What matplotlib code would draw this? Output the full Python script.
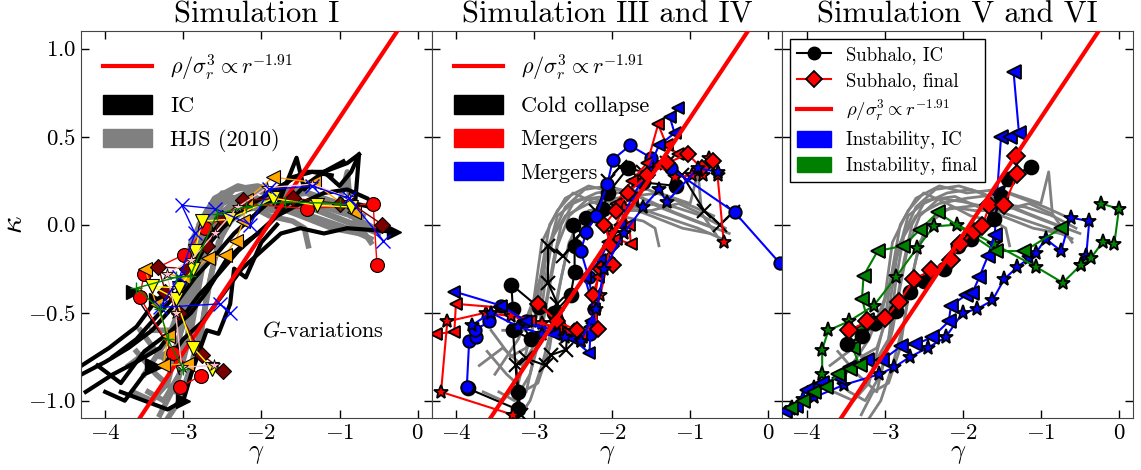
import numpy as np
import matplotlib.pyplot as plt
from matplotlib.lines import Line2D
from matplotlib.patches import Patch

plt.rcParams['mathtext.fontset'] = 'cm'
plt.rcParams['font.family'] = 'serif'
plt.rcParams['font.serif'] = ['cmr10']
plt.rcParams['axes.formatter.use_mathtext'] = True

# наклон линии rho/sigma^3 ~ r^-alpha в плоскости (gamma, kappa)
alpha = 1.91
ref_gamma = [-4.6, 0.6]

# HJS (2010): треки (gamma, kappa)
hjs_tracks = [
    [(-3.60, -0.72), (-3.35, -0.85), (-3.10, -0.95), (-3.00, -0.75), (-2.85, -0.45), (-2.75, -0.20),
     (-2.65, 0.00), (-2.50, 0.12), (-2.20, 0.18), (-1.90, 0.20), (-1.60, 0.15), (-1.20, 0.07),
     (-0.80, 0.00), (-0.50, -0.05)],
    [(-3.45, -0.95), (-3.25, -1.00), (-3.05, -0.85), (-2.90, -0.60), (-2.80, -0.35), (-2.70, -0.12),
     (-2.55, 0.05), (-2.30, 0.15), (-2.00, 0.13), (-1.70, 0.10), (-1.30, 0.04), (-0.90, -0.02),
     (-0.60, -0.08)],
    [(-3.70, -0.80), (-3.40, -0.70), (-3.15, -0.80), (-2.95, -0.65), (-2.85, -0.30), (-2.75, -0.05),
     (-2.60, 0.10), (-2.35, 0.20), (-2.05, 0.22), (-1.75, 0.18), (-1.40, 0.10), (-1.00, 0.03),
     (-0.70, -0.02)],
    [(-3.30, -1.08), (-3.15, -0.95), (-2.95, -0.90), (-2.80, -0.70), (-2.70, -0.40), (-2.60, -0.20),
     (-2.50, -0.05), (-2.30, 0.08), (-2.00, 0.10), (-1.60, 0.12), (-1.20, 0.10), (-0.85, 0.05),
     (-0.55, -0.02)],
    [(-3.55, -0.60), (-3.30, -0.75), (-3.10, -0.70), (-2.95, -0.50), (-2.85, -0.20), (-2.70, 0.05),
     (-2.45, 0.14), (-2.10, 0.16), (-1.80, 0.10), (-1.50, 0.05), (-1.10, -0.02), (-0.75, -0.05)],
    [(-3.20, -1.10), (-3.05, -1.00), (-2.90, -0.80), (-2.75, -0.55), (-2.65, -0.30), (-2.55, -0.10),
     (-2.40, 0.02), (-2.15, 0.10), (-1.85, 0.08), (-1.50, 0.08), (-1.15, 0.12), (-0.85, 0.06),
     (-0.60, -0.10)],
    [(-3.65, -0.95), (-3.40, -1.00), (-3.20, -0.90), (-3.00, -0.55), (-2.90, -0.25), (-2.80, 0.00),
     (-2.60, 0.15), (-2.30, 0.22), (-1.95, 0.18), (-1.55, 0.20), (-1.25, 0.15), (-0.95, 0.10),
     (-0.70, 0.05)],
    [(-3.50, -0.85), (-3.20, -0.65), (-3.00, -0.42), (-2.90, -0.10), (-2.70, 0.08), (-2.50, 0.18),
     (-2.20, 0.12), (-1.90, 0.05), (-1.60, 0.02), (-1.45, -0.02), (-1.40, -0.12)],
    [(-3.40, -0.60), (-3.10, -0.60), (-2.95, -0.35), (-2.80, -0.10), (-2.60, 0.05), (-2.30, 0.12),
     (-1.95, 0.15), (-1.40, 0.18), (-1.00, 0.12), (-0.90, 0.30), (-0.85, 0.05)],
]

# Simulation I: начальные условия (толстые чёрные)
ic_tracks = [
    [(-4.30, -0.85), (-4.00, -0.78), (-3.70, -0.70), (-3.40, -0.60), (-3.10, -0.45), (-2.85, -0.30),
     (-2.60, -0.18), (-2.35, -0.05), (-2.10, 0.05), (-1.85, 0.15), (-1.60, 0.27), (-1.35, 0.30),
     (-1.10, 0.28)],
    [(-4.25, -0.95), (-3.90, -0.85), (-3.60, -0.78), (-3.30, -0.70), (-3.05, -0.55), (-2.80, -0.40),
     (-2.55, -0.28), (-2.30, -0.15), (-2.05, -0.05), (-1.80, 0.05), (-1.50, 0.12), (-1.20, 0.18),
     (-0.90, 0.20), (-0.65, 0.15)],
    [(-4.10, -0.80), (-3.80, -0.90), (-3.50, -0.72), (-3.20, -0.62), (-2.90, -0.50), (-2.70, -0.38),
     (-2.45, -0.20), (-2.20, -0.10), (-1.95, -0.02), (-1.70, 0.10), (-1.45, 0.22), (-1.20, 0.30),
     (-0.95, 0.36)],
    [(-4.00, -0.95), (-3.75, -1.00), (-3.50, -0.85), (-3.25, -0.80), (-3.00, -0.65), (-2.75, -0.55),
     (-2.50, -0.40), (-2.25, -0.25), (-2.00, -0.15), (-1.75, -0.05), (-1.50, -0.02), (-1.20, -0.05),
     (-0.90, -0.02), (-0.30, -0.04)],
    [(-3.90, -0.75), (-3.60, -0.65), (-3.30, -0.50), (-3.00, -0.35), (-2.75, -0.15), (-2.50, -0.02),
     (-2.25, 0.08), (-2.00, 0.15), (-1.75, 0.22), (-1.45, 0.30), (-1.20, 0.30), (-0.90, 0.35),
     (-0.75, 0.40)],
    [(-3.80, -0.95), (-3.50, -1.00), (-3.20, -1.05), (-3.00, -1.00), (-2.90, -0.85), (-2.70, -0.60),
     (-2.55, -0.62), (-2.40, -0.45), (-2.35, -0.25), (-2.20, -0.30), (-2.00, -0.10), (-1.80, 0.00)],
    [(-1.80, 0.10), (-1.55, 0.38), (-1.45, 0.20), (-1.20, 0.30), (-1.00, 0.22), (-0.85, 0.30),
     (-0.75, 0.40), (-0.80, 0.12), (-0.60, 0.10)],
    [(-4.30, -0.80), (-3.95, -0.70), (-3.60, -0.58), (-3.35, -0.43), (-3.10, -0.35), (-2.90, -0.25),
     (-2.70, -0.08), (-2.45, 0.05)],
]
ic_ends = [(-3.65, -0.38), (-3.35, -0.43), (-3.00, -1.00), (-0.30, -0.04), (-3.40, -0.80)]

# Simulation I: вариации G
gvar_red = [(-3.04, -0.92), (-2.78, -0.86), (-3.13, -0.73), (-3.56, -0.41), (-3.50, -0.28),
            (-2.99, -0.17), (-2.72, -0.02), (-2.20, 0.12), (-1.41, 0.09), (-0.57, 0.12), (-0.52, -0.23)]
gvar_orange = [(-2.95, -0.79), (-3.26, -0.80), (-3.19, -0.63), (-3.35, -0.45), (-3.49, -0.25),
               (-3.00, -0.30), (-2.68, -0.19), (-2.46, -0.17), (-2.33, -0.09), (-2.23, 0.02),
               (-2.20, 0.14), (-1.85, 0.27), (-1.33, 0.24), (-0.82, 0.07)]
gvar_yellow = [(-2.63, -0.82), (-2.87, -0.70), (-3.10, -0.42), (-3.40, -0.35), (-3.06, -0.36),
               (-2.87, -0.25), (-2.85, -0.15), (-2.76, 0.02), (-2.42, 0.03), (-1.85, 0.15),
               (-1.29, 0.11), (-0.85, 0.10)]
gvar_maroon = [(-2.49, -0.83), (-2.76, -0.74), (-3.05, -0.50), (-3.23, -0.38), (-3.32, -0.24),
               (-2.95, -0.25), (-2.70, -0.12), (-2.50, 0.04), (-2.23, 0.14), (-1.60, 0.15),
               (-1.00, 0.12), (-0.85, 0.12), (-0.45, 0.00)]
gvar_pink = [(-2.61, -0.80), (-3.02, -0.81), (-3.10, -0.50), (-3.21, -0.28), (-2.90, -0.20),
             (-2.60, -0.05), (-2.30, 0.10), (-1.93, 0.21), (-1.35, 0.23), (-0.88, 0.15)]
gvar_blue = [(-2.40, -0.50), (-2.53, -0.45), (-3.30, -0.47), (-3.05, -0.30), (-2.85, -0.05),
             (-3.02, 0.11), (-2.59, 0.09), (-2.14, 0.00), (-1.90, 0.20), (-1.35, 0.22), (-0.88, 0.15),
             (-0.44, -0.09)]
gvar_green = [(-3.00, -0.82), (-3.20, -0.65), (-3.30, -0.48), (-3.60, -0.36), (-3.10, -0.30),
              (-2.91, -0.29), (-2.57, 0.06), (-2.20, 0.10), (-1.70, 0.13), (-1.00, 0.12)]

# Simulation III и IV: холодный коллапс
cold_circ = [(-3.85, -0.93), (-3.21, -1.05), (-3.21, -0.95), (-3.27, -0.60), (-3.04, -0.65), (-3.27, -0.48),
             (-3.29, -0.34), (-2.94, -0.47), (-2.74, -0.50), (-2.53, -0.40), (-2.48, -0.27), (-2.48, -0.12),
             (-2.50, 0.00), (-2.33, 0.04), (-2.12, 0.09), (-2.05, 0.18), (-1.80, 0.32), (-1.60, 0.24),
             (-1.18, 0.22)]
cold_x = [(-3.17, -1.08), (-3.23, -0.80), (-3.10, -0.76), (-2.85, -0.80), (-2.78, -0.74), (-2.59, -0.71),
          (-2.57, -0.60), (-2.70, -0.45), (-2.82, -0.33), (-2.82, -0.12), (-2.63, -0.18), (-2.40, -0.05),
          (-2.20, 0.08), (-2.05, 0.25), (-1.90, 0.33), (-1.60, 0.30), (-1.30, 0.35), (-1.10, 0.28),
          (-0.82, 0.08), (-0.62, 0.00), (-0.45, 0.07)]

# Simulation III и IV: слияния
merg_red_star = [(-3.27, -1.08), (-4.19, -0.95), (-4.11, -0.55), (-3.62, -0.50), (-3.30, -0.52),
                 (-2.90, -0.56), (-2.60, -0.62), (-2.40, -0.66), (-2.25, -0.57), (-2.15, -0.40),
                 (-2.05, -0.20), (-2.00, -0.05), (-1.85, 0.10), (-1.70, 0.25), (-1.45, 0.35),
                 (-1.20, 0.27), (-0.98, 0.28), (-0.84, 0.28), (-0.76, 0.38), (-0.65, 0.28), (-0.57, -0.10)]
merg_red_tri = [(-4.26, -0.62), (-4.02, -0.61), (-4.00, -0.45), (-3.45, -0.47), (-3.05, -0.55),
                (-2.70, -0.58), (-2.40, -0.64), (-2.28, -0.58), (-2.18, -0.30), (-1.95, -0.08),
                (-1.76, -0.11), (-1.78, 0.00), (-1.95, 0.12), (-1.75, 0.25), (-1.55, 0.35),
                (-1.41, 0.57), (-1.30, 0.45), (-1.15, 0.40)]
merg_red_dia = [(-2.95, -0.45), (-2.70, -0.55), (-2.45, -0.60), (-2.18, -0.59), (-2.25, -0.40),
                (-2.14, -0.25), (-1.99, -0.23), (-2.01, -0.12), (-2.10, 0.00), (-1.95, 0.08),
                (-1.80, 0.18), (-1.55, 0.28), (-1.30, 0.35), (-1.03, 0.40), (-0.85, 0.32), (-0.71, 0.36)]
merg_blue_circ = [(-3.86, -0.92), (-3.83, -0.66), (-3.74, -0.64), (-3.76, -0.60), (-3.57, -0.55),
                  (-3.42, -0.46), (-3.10, -0.55), (-2.75, -0.60), (-2.45, -0.62), (-2.28, -0.62),
                  (-2.23, -0.48), (-2.30, -0.30), (-2.40, -0.15), (-2.33, -0.04), (-2.20, 0.05),
                  (-2.06, 0.23), (-1.99, 0.37), (-1.77, 0.45), (-1.50, 0.38), (-1.25, 0.32),
                  (-0.43, 0.07), (0.15, -0.22)]
merg_blue_tri = [(-4.02, -0.38), (-3.42, -0.46), (-3.10, -0.55), (-2.75, -0.62), (-2.50, -0.65),
                 (-2.29, -0.73), (-2.27, -0.55), (-2.23, -0.48), (-2.35, -0.30), (-2.15, -0.20),
                 (-2.05, -0.10), (-1.90, 0.00), (-1.75, 0.15), (-1.55, 0.30), (-1.40, 0.45),
                 (-1.20, 0.52), (-1.26, 0.61), (-1.16, 0.66)]
merg_blue_star = [(-3.79, -0.57), (-3.55, -0.50), (-3.20, -0.58), (-2.90, -0.62), (-2.60, -0.64),
                  (-2.40, -0.66), (-2.20, -0.48), (-2.10, -0.25), (-1.85, -0.05), (-1.60, 0.10),
                  (-1.40, 0.20), (-1.30, 0.13), (-0.90, 0.32), (-0.65, 0.30)]

# Simulation V и VI: субгало и неустойчивость
sub_ic = [(-3.48, -0.68), (-3.29, -0.63), (-3.12, -0.56), (-2.86, -0.49), (-2.67, -0.38), (-2.50, -0.32),
          (-2.24, -0.25), (-2.06, -0.12), (-1.90, -0.08), (-1.60, 0.03), (-1.51, 0.16), (-1.42, 0.26),
          (-1.13, 0.33)]
sub_final = [(-3.46, -0.60), (-3.22, -0.55), (-2.99, -0.53), (-2.82, -0.44), (-2.62, -0.31), (-2.41, -0.26),
             (-2.15, -0.20), (-2.03, -0.11), (-1.86, -0.04), (-1.75, -0.01), (-1.66, 0.11), (-1.47, 0.11),
             (-1.30, 0.29), (-1.32, 0.39)]
inst_ic_tri = [(-4.27, -1.06), (-4.14, -1.03), (-4.00, -0.94), (-3.80, -0.90), (-3.59, -0.87), (-3.44, -0.81),
               (-3.22, -0.77), (-3.03, -0.77), (-2.79, -0.69), (-2.61, -0.68), (-2.39, -0.64), (-2.18, -0.55),
               (-2.15, -0.46), (-1.96, -0.40), (-1.88, -0.39), (-1.79, -0.30), (-1.68, -0.18), (-1.59, -0.06),
               (-1.56, 0.18), (-1.51, 0.50), (-1.40, 0.50), (-1.28, 0.52), (-1.35, 0.87)]
inst_ic_star = [(-4.18, -1.04), (-3.90, -0.98), (-3.52, -0.91), (-3.07, -0.85), (-2.88, -0.81), (-2.67, -0.75),
                (-2.45, -0.70), (-2.22, -0.64), (-2.00, -0.50), (-1.82, -0.48), (-1.62, -0.43), (-1.47, -0.31),
                (-1.30, -0.24), (-1.15, -0.19), (-1.06, -0.16), (-0.94, -0.08), (-0.74, -0.15), (-0.62, 0.04),
                (-0.38, 0.02), (-0.42, -0.18), (-0.49, -0.23)]
inst_fin_tri = [(-4.20, -1.04), (-4.05, -1.00), (-3.90, -0.95), (-3.75, -0.92), (-3.60, -0.85), (-3.45, -0.82),
                (-3.32, -0.80), (-3.41, -0.70), (-3.33, -0.60), (-3.22, -0.54), (-3.29, -0.42), (-3.27, -0.29),
                (-3.09, -0.15), (-2.76, -0.12), (-2.55, -0.03), (-2.32, 0.07), (-1.58, -0.15), (-1.21, -0.15),
                (-0.74, -0.02)]
inst_fin_star = [(-4.20, -1.05), (-4.05, -0.99), (-3.90, -0.93), (-3.80, -0.85), (-3.80, -0.71), (-3.72, -0.60),
                 (-3.46, -0.55), (-3.14, -0.46), (-2.86, -0.30), (-2.58, -0.13), (-2.37, -0.01), (-2.07, 0.00),
                 (-1.60, -0.11), (-1.06, -0.24), (-0.72, -0.33), (-0.49, -0.23), (-0.36, -0.19), (-0.21, -0.10),
                 (-0.06, -0.11), (0.00, 0.09), (-0.23, 0.12)]


def draw_track(ax, pts, color, marker=None, ms=9, lw=1.5, mfc=None, mec='k', mew=1.3, zorder=3):
    pts = np.array(pts)
    ax.plot(pts[:, 0], pts[:, 1], color=color, lw=lw, marker=marker, ms=ms,
            mfc=color if mfc is None else mfc, mec=mec, mew=mew, zorder=zorder)


def draw_reference(ax, zorder):
    g = np.array(ref_gamma)
    ax.plot(g, 2.0 / 3.0 * (g + alpha), color='red', lw=3, zorder=zorder)


ref_label = r'$\rho/\sigma_r^3 \propto r^{-1.91}$'

fig, axes = plt.subplots(1, 3, figsize=(11.41, 4.70), dpi=100, sharey=True)
plt.subplots_adjust(left=0.071, right=0.993, bottom=0.11, top=0.934, wspace=0)

# --- Simulation I
ax = axes[0]
for tr in hjs_tracks:
    draw_track(ax, tr, 'gray', lw=4, zorder=1)
for tr in ic_tracks:
    draw_track(ax, tr, 'k', lw=3, zorder=2)
draw_track(ax, [(-3.65, -0.38), (-3.20, -0.68), (-3.05, -0.85)], 'k', lw=1, zorder=2)
ends = np.array(ic_ends)
ax.plot(ends[:, 0], ends[:, 1], ls='none', marker='>', ms=10, color='k', zorder=2)
draw_reference(ax, 4)
draw_track(ax, gvar_red, 'red', 'o', ms=10, lw=1, mew=0.8, zorder=5)
draw_track(ax, gvar_orange, 'orange', '<', ms=10, lw=1, mew=0.8, zorder=5)
draw_track(ax, gvar_maroon, '#7a0000', 'D', ms=8.5, lw=1, mew=0.8, zorder=5)
draw_track(ax, gvar_yellow, 'yellow', 'v', ms=10, lw=1, mew=0.8, zorder=5)
draw_track(ax, gvar_pink, 'pink', '*', ms=9, lw=1, mew=0.6, zorder=5)
draw_track(ax, gvar_blue, 'blue', 'x', ms=10, lw=1, mec='blue', mew=1, zorder=5)
draw_track(ax, gvar_green, 'green', '+', ms=9, lw=1, mec='green', mew=1, zorder=5)
ax.text(-1.99, -0.6, r'$G$-variations', fontsize=16, va='center')
ax.set_title('Simulation I', fontsize=22)
ax.set_ylabel(r'$\kappa$', fontsize=22, labelpad=0)
ax.legend([Line2D([], [], color='red', lw=3), Patch(color='k'), Patch(color='gray')],
          [ref_label, 'IC', 'HJS (2010)'], loc='upper left', frameon=False, fontsize=16,
          handlelength=2.2, handleheight=0.9, labelspacing=0.55, borderaxespad=0.6)

# --- Simulation III and IV
ax = axes[1]
for tr in hjs_tracks:
    draw_track(ax, tr, 'gray', lw=2, zorder=1)
draw_track(ax, cold_x, 'k', 'x', ms=10, lw=1.5, mew=1.5, zorder=3)
draw_track(ax, cold_circ, 'k', 'o', ms=10, lw=1.5, zorder=3)
draw_track(ax, merg_red_star, 'red', '*', ms=10, lw=1.5, zorder=3)
draw_track(ax, merg_blue_circ, 'blue', 'o', ms=9, lw=1.5, zorder=3)
draw_track(ax, merg_red_tri, 'red', '<', ms=9, lw=1.5, zorder=3)
draw_track(ax, merg_blue_tri, 'blue', '<', ms=9, lw=1.5, zorder=3)
draw_track(ax, merg_red_dia, 'red', 'D', ms=8, lw=1.5, zorder=3)
draw_track(ax, merg_blue_star, 'blue', '*', ms=10, lw=1.5, zorder=3)
draw_reference(ax, 6)
ax.set_title('Simulation III and IV', fontsize=22)
ax.legend([Line2D([], [], color='red', lw=3), Patch(color='k'), Patch(color='red'), Patch(color='blue')],
          [ref_label, 'Cold collapse', 'Mergers', 'Mergers'], loc='upper left', frameon=False,
          fontsize=16, handlelength=2.2, handleheight=0.9, labelspacing=0.55, borderaxespad=0.6)

# --- Simulation V and VI
ax = axes[2]
for tr in hjs_tracks:
    draw_track(ax, tr, 'gray', lw=2, zorder=1)
draw_track(ax, inst_ic_star, 'blue', '*', ms=11, lw=1.5, zorder=3)
draw_track(ax, inst_fin_star, 'green', '*', ms=11, lw=1.5, zorder=3)
draw_track(ax, inst_ic_tri, 'blue', '<', ms=10, lw=1.5, zorder=3)
draw_track(ax, inst_fin_tri, 'green', '<', ms=10, lw=1.5, zorder=3)
draw_track(ax, sub_ic, 'k', 'o', ms=10, lw=1.5, zorder=4)
draw_track(ax, sub_final, 'red', 'D', ms=9, lw=1.5, zorder=4)
draw_reference(ax, 6)
ax.set_title('Simulation V and VI', fontsize=22)
handles = [Line2D([], [], color='k', lw=1.5, marker='o', ms=9, mfc='k', mec='k'),
           Line2D([], [], color='red', lw=1.5, marker='D', ms=8, mfc='red', mec='k', mew=1.3),
           Line2D([], [], color='red', lw=3),
           Patch(color='blue'), Patch(color='green')]
leg = ax.legend(handles, ['Subhalo, IC', 'Subhalo, final', ref_label, 'Instability, IC', 'Instability, final'],
                loc='upper left', frameon=True, fancybox=False, framealpha=1, edgecolor='k', fontsize=13.5,
                handlelength=1.8, handleheight=0.9, labelspacing=0.4, handletextpad=0.8,
                borderaxespad=0.4, borderpad=0.4)
leg.get_frame().set_linewidth(1.0)

for ax in axes:
    ax.set_xlim(-4.31, 0.18)
    ax.set_ylim(-1.1, 1.1)
    ax.set_xticks([-4, -3, -2, -1, 0])
    ax.set_yticks([-1.0, -0.5, 0.0, 0.5, 1.0])
    ax.tick_params(direction='in', top=True, right=True, length=6, width=1, labelsize=16.5)
    ax.set_xlabel(r'$\gamma$', fontsize=19, labelpad=0)
    for sp in ax.spines.values():
        sp.set_color('#444444')

fig.savefig('out.png', dpi=100)
